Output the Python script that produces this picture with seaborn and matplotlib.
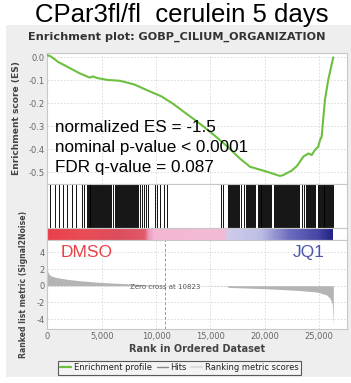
import numpy as np
import pandas as pd
import matplotlib
matplotlib.use("Agg")
import matplotlib.pyplot as plt
from matplotlib.colors import LinearSegmentedColormap
from matplotlib.patches import Rectangle
from matplotlib.lines import Line2D
import seaborn as sns

# ---------------- data ----------------
es_rank = [0, 300, 1000, 2000, 3000, 3600, 3900, 4200, 4600, 5500, 6700, 8000,
           9130, 10500, 11500, 12500, 13500, 14340, 15500, 16600, 17700, 18630,
           20160, 21390, 21690, 22460, 23000, 23530, 24000, 24300, 24600, 24900,
           25070, 25220, 25520, 25820, 26050, 26290]
es_value = [0.01, 0.005, -0.02, -0.045, -0.07, -0.082, -0.088, -0.083, -0.09,
            -0.098, -0.102, -0.118, -0.142, -0.17, -0.2, -0.235, -0.27, -0.30,
            -0.345, -0.39, -0.44, -0.476, -0.497, -0.516, -0.512, -0.493, -0.47,
            -0.432, -0.418, -0.425, -0.403, -0.389, -0.36, -0.345, -0.186,
            -0.099, -0.05, 0.0]

hit_ranks = [250, 706, 1104, 1471, 1777, 2297, 2634, 3215, 3399,
             3613, 3700, 3790, 3880, 3960, 4050, 4140, 4230, 4320, 4400, 4500,
             4580, 4670, 4760, 4850, 4940, 5030, 5120, 5210, 5300, 5390, 5480,
             5570, 5660, 5755, 5900, 6050,
             6214, 6300, 6390, 6480, 6560, 6650, 6740, 6830, 6920, 7010, 7100,
             7200, 7290, 7380, 7470, 7560, 7650, 7750, 7850, 7950, 8050, 8150,
             8250, 8350, 8509, 8700, 8900, 9100, 9300,
             9886, 10100, 10345, 10712, 11049, 15945, 16159,
             16618, 16700, 16790, 16880, 16970, 17060, 17150, 17240, 17330,
             17420, 17510, 17600, 17850, 18050, 18300, 18390, 18480, 18570,
             18660, 18750, 18840, 18930, 19020, 19110, 19330, 19420, 19510,
             19600, 19690, 19780, 19870, 19960, 20050, 20140, 20230, 20320,
             20410, 20500, 20590, 20880, 20970, 21060, 21150, 21240, 21330,
             21420, 21510, 21600, 21690, 21780, 21870, 21960, 22050, 22140,
             22230, 22320, 22410, 22500, 22590, 22680, 22770, 22860, 22950,
             23040, 23130, 23400, 23600, 23800, 23890, 23980, 24070, 24160,
             24250, 24340, 24430, 24520, 24610, 24850, 24940, 25030, 25120,
             25210, 25300, 25390, 25480, 25570, 25660, 25750, 25840, 25930,
             26020, 26110, 26200, 26257]

metric_rank = [0, 100, 300, 800, 1780, 3000, 4840, 7900, 10823, 16500, 16640,
               20000, 22900, 24760, 25680, 25980, 26200, 26290]
metric_value = [1.9, 1.5, 1.2, 1.0, 0.78, 0.6, 0.4, 0.2, 0.0, -0.03, -0.2,
                -0.35, -0.55, -0.75, -1.1, -1.5, -2.2, -4.9]

zero_cross = 10823
n_genes = 26290
x_ticks = [0, 5000, 10000, 15000, 20000, 25000]
x_tick_labels = ["0", "5,000", "10,000", "15,000", "20,000", "25,000"]
es_ticks = [0.0, -0.1, -0.2, -0.3, -0.4, -0.5]
metric_ticks = [4, 2, 0, -2, -4]

title_main = "CPar3fl/fl  cerulein 5 days"
title_gsea = "Enrichment plot: GOBP_CILIUM_ORGANIZATION"
stats_lines = ["normalized ES = -1.5", "nominal p-value < 0.0001", "FDR q-value = 0.087"]

# ---------------- styling ----------------
sns.set_theme(style="white")
plt.rcParams['font.family'] = ['DejaVu Sans']

W, H = 351, 383
fig = plt.figure(figsize=(W / 100, H / 100), dpi=100)
fig.patch.set_facecolor("white")

def frac_rect(x0, y0, x1, y1):
    return [x0 / W, 1 - y1 / H, (x1 - x0) / W, (y1 - y0) / H]

# gray GSEA panel background
bg = Rectangle((6 / W, 1 - 377 / H), (351 - 6) / W, (377 - 25) / H,
               transform=fig.transFigure, facecolor="#eeeeee",
               edgecolor="none", zorder=-10)
fig.patches.append(bg)

green = "#6cbf3f"
tick_col = "#666666"
grid_kw = dict(color="#d8d8d8", linestyle=(0, (2, 2)), linewidth=0.6)
spine_col = "#c8c8c8"
xmax = 27550

ax_es = fig.add_axes(frac_rect(47.3, 53, 347, 184))
ax_hits = fig.add_axes(frac_rect(47.3, 184, 347, 228))
ax_cb = fig.add_axes(frac_rect(47.3, 228, 347, 240))
ax_rm = fig.add_axes(frac_rect(47.3, 240, 347, 329))

for ax in (ax_es, ax_hits, ax_cb, ax_rm):
    ax.set_facecolor("white")
    ax.set_xlim(0, xmax)
    for s in ax.spines.values():
        s.set_color(spine_col)
        s.set_linewidth(0.8)
    ax.set_xticks(x_ticks)
    ax.tick_params(length=0, labelsize=6, colors=tick_col, pad=2)

# ES panel
es_df = pd.DataFrame({"rank": es_rank, "es": es_value})
sns.lineplot(data=es_df, x="rank", y="es", ax=ax_es, color=green, linewidth=1.5,
             sort=True, zorder=3)
ax_es.set_xlim(0, xmax)
ax_es.set_ylim(-0.551, 0.019)
ax_es.set_yticks(es_ticks)
ax_es.set_yticklabels([f"{v:.1f}" for v in es_ticks])
ax_es.set_xticks(x_ticks)
ax_es.set_xticklabels([])
ax_es.set_xlabel("")
ax_es.set_ylabel("Enrichment score (ES)", fontsize=6.6, fontweight="bold",
                 color="#444444", labelpad=5)
ax_es.grid(True, **grid_kw)
ax_es.set_axisbelow(True)
for i, line in enumerate(stats_lines):
    ax_es.text(700, -0.305 - 0.088 * i, line,
               fontsize=12.3, family=["Liberation Sans"], color="black",
               va="center", ha="left", zorder=4)

# hits panel
ax_hits.vlines(hit_ranks, 0, 1, color="black", linewidth=0.65)
ax_hits.set_xlim(0, xmax)
ax_hits.set_ylim(0, 1)
ax_hits.set_yticks([])
ax_hits.set_xticklabels([])
ax_hits.grid(True, axis="x", **grid_kw)
ax_hits.set_axisbelow(True)

# colour bar
cmap = LinearSegmentedColormap.from_list("rank", [
    (0.0, "#e8404a"), (0.12, "#ea4c56"), (0.25, "#dc4d5c"), (0.34, "#e25a6a"),
    (0.355, "#ee9ab8"), (0.375, "#f4b8d4"), (0.62, "#f5bad6"), (0.635, "#cfcdec"),
    (0.75, "#bdbde4"), (0.85, "#6c6cc0"), (0.95, "#4646a4"), (1.0, "#232386")])
ax_cb.imshow(np.linspace(0, 1, 400)[None, :], aspect="auto", cmap=cmap,
             extent=[0, n_genes, 0, 1], interpolation="bilinear")
ax_cb.set_xlim(0, xmax)
ax_cb.set_ylim(0, 1)
ax_cb.set_yticks([])
ax_cb.set_xticklabels([])

# ranked metric panel
ax_rm.fill_between(metric_rank, metric_value, 0, color="#b4b4b4", linewidth=0)
ax_rm.set_xlim(0, xmax)
ax_rm.set_ylim(-5.2, 5.5)
ax_rm.set_yticks(metric_ticks)
ax_rm.set_yticklabels([str(v) for v in metric_ticks])
ax_rm.set_xticks(x_ticks)
ax_rm.set_xticklabels(x_tick_labels)
ax_rm.grid(True, **grid_kw)
ax_rm.set_axisbelow(True)
ax_rm.axvline(zero_cross, color="#999999", linestyle=(0, (3, 2)), linewidth=0.7)
ax_rm.text(zero_cross, -0.1, f"Zero cross at {zero_cross}", fontsize=5,
           color="#555555", ha="center", va="center")
ax_rm.set_xlabel("Rank in Ordered Dataset", fontsize=7, fontweight="bold",
                 color="#444444", labelpad=2)
ax_rm.set_ylabel("Ranked list metric (Signal2Noise)", fontsize=5.6, fontweight="bold",
                 color="#444444", labelpad=6)
ax_rm.text(1200, 4.0, "DMSO", fontsize=12.5, family=["Liberation Sans"],
           color="#e84148", ha="left", va="center")
ax_rm.text(25500, 4.0, "JQ1", fontsize=12.5, family=["Liberation Sans"],
           color="#4a55ab", ha="right", va="center")

# titles
fig.text(182 / W, 1 - 15 / H, title_main, fontsize=18.5, family=["Liberation Sans"],
         ha="center", va="center", color="black")
fig.text(177 / W, 1 - 37 / H, title_gsea, fontsize=8.1, fontweight="bold",
         ha="center", va="center", color="#333333")

# legend
handles = [Line2D([], [], color=green, lw=1.6),
           Line2D([], [], color="#888888", lw=1.0),
           Line2D([], [], color="#dddddd", lw=1.6)]
leg = fig.legend(handles, ["Enrichment profile", "Hits", "Ranking metric scores"],
                 loc="center", bbox_to_anchor=(179.5 / W, 1 - 367.5 / H), ncol=3,
                 fontsize=6.0, frameon=True, fancybox=False, handlelength=1.3,
                 handletextpad=0.3, columnspacing=0.6, borderpad=0.3,
                 labelcolor="#222222")
leg.get_frame().set_edgecolor("#333333")
leg.get_frame().set_linewidth(0.8)
leg.get_frame().set_facecolor("#f6f6f6")

fig.savefig("out.png", dpi=100, facecolor=fig.get_facecolor())
